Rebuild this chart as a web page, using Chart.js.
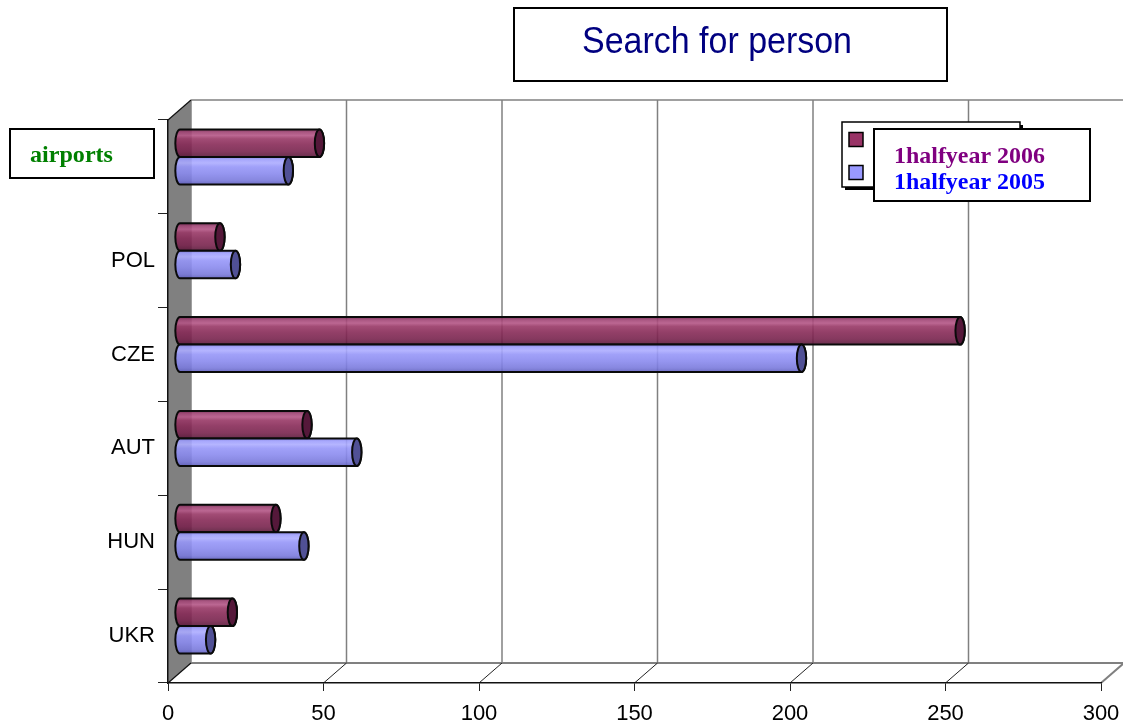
<!DOCTYPE html>
<html><head><meta charset="utf-8">
<script src="https://cdn.jsdelivr.net/npm/chart.js@4/dist/chart.umd.min.js"></script>
<style>html,body{margin:0;padding:0;background:#fff;overflow:hidden}#wrap{width:1123px;height:726px;position:relative}</style>
</head><body><div id="wrap"><canvas id="c" width="1123" height="726"></canvas></div>
<script>
const categories = ['airports', 'POL', 'CZE', 'AUT', 'HUN', 'UKR'];
const seriesNames = ['1halfyear 2006', '1halfyear 2005'];
const values2006 = [45, 13, 251, 41, 31, 17];
const values2005 = [35, 18, 200, 57, 40, 10];
const xTicks = [0, 50, 100, 150, 200, 250, 300];
const chartTitle = 'Search for person';

const DX = 23, DY = -20; // depth of the 3D box
const seriesStyles = [
  { legend: '#993366', text: '#800080', cap: '#55183a',
    stops: [[0,'#742650'],[0.1,'#a04474'],[0.22,'#b45686'],[0.34,'#983866'],[0.55,'#872a57'],[0.8,'#78234d'],[1,'#5a193a']] },
  { legend: '#9999FF', text: '#0000FF', cap: '#505095',
    stops: [[0,'#7e7ee0'],[0.1,'#9e9efc'],[0.22,'#acacff'],[0.36,'#9696f8'],[0.6,'#8a8aee'],[0.85,'#7a7adc'],[1,'#6060be']] }
];

function line(ctx, x1, y1, x2, y2) { ctx.beginPath(); ctx.moveTo(x1, y1); ctx.lineTo(x2, y2); ctx.stroke(); }

function cylinder(ctx, x0, x1, yc, h, st) {
  const ry = h / 2, rx = h * 0.17;
  const top = yc - ry, bot = yc + ry;
  const g = ctx.createLinearGradient(0, top, 0, bot);
  st.stops.forEach(s => g.addColorStop(s[0], s[1]));
  ctx.beginPath();
  ctx.moveTo(x1, top);
  ctx.lineTo(x0, top);
  ctx.ellipse(x0, yc, rx, ry, 0, -Math.PI / 2, Math.PI / 2, true);
  ctx.lineTo(x1, bot);
  ctx.ellipse(x1, yc, rx, ry, 0, Math.PI / 2, -Math.PI / 2, true);
  ctx.closePath();
  ctx.globalAlpha = 0.9;
  ctx.fillStyle = g; ctx.fill();
  ctx.globalAlpha = 1;
  ctx.lineWidth = 2; ctx.strokeStyle = '#0a0a0a'; ctx.stroke();
  ctx.beginPath();
  ctx.ellipse(x1, yc, rx, ry, 0, 0, Math.PI * 2);
  ctx.fillStyle = st.cap; ctx.fill(); ctx.stroke();
}

function fitFont(ctx, text, weight, family, width) {
  ctx.font = weight + ' 20px ' + family;
  const w = ctx.measureText(text).width;
  const size = 20 * width / w;
  return weight + ' ' + size.toFixed(2) + 'px ' + family;
}

const depthPlugin = {
  id: 'depth',
  beforeDraw(chart) {
    const { ctx, chartArea: a, scales: { x } } = chart;
    ctx.save();
    ctx.fillStyle = '#fff'; ctx.fillRect(0, 0, chart.width, chart.height);
    // back wall grid lines
    ctx.strokeStyle = '#808080'; ctx.lineWidth = 1.5;
    xTicks.forEach(v => { const px = x.getPixelForValue(v) + DX; line(ctx, px, a.top + DY, px, a.bottom + DY); });
    line(ctx, a.left + DX, a.top + DY, a.right + DX, a.top + DY);
    // floor
    ctx.lineWidth = 2;
    line(ctx, a.left + DX, a.bottom + DY, a.right + DX, a.bottom + DY);
    line(ctx, a.right, a.bottom, a.right + DX, a.bottom + DY);
    ctx.strokeStyle = '#222'; ctx.lineWidth = 1;
    xTicks.slice(1, -1).forEach(v => { const px = x.getPixelForValue(v); line(ctx, px, a.bottom, px + DX, a.bottom + DY); });
    // side wall
    ctx.beginPath();
    ctx.moveTo(a.left, a.top); ctx.lineTo(a.left + DX, a.top + DY);
    ctx.lineTo(a.left + DX, a.bottom + DY); ctx.lineTo(a.left, a.bottom); ctx.closePath();
    ctx.fillStyle = '#808080'; ctx.fill();
    ctx.strokeStyle = '#111'; ctx.lineWidth = 1.2;
    line(ctx, a.left, a.top, a.left + DX, a.top + DY);
    line(ctx, a.left, a.bottom, a.left + DX, a.bottom + DY);
    ctx.restore();
  },
  beforeDatasetsDraw(chart) {
    const ctx = chart.ctx;
    ctx.save();
    chart.data.datasets.forEach((ds, di) => {
      chart.getDatasetMeta(di).data.forEach(el => {
        const p = el.getProps(['x', 'y', 'base', 'height'], true);
        cylinder(ctx, p.base + DX / 2, p.x + DX / 2, p.y + DY / 2, p.height, seriesStyles[di]);
      });
    });
    ctx.restore();
    return false;
  },
  afterDraw(chart) {
    const ctx = chart.ctx;
    ctx.save();
    // title box
    ctx.fillStyle = '#fff'; ctx.fillRect(514, 8, 433, 73);
    ctx.strokeStyle = '#000'; ctx.lineWidth = 2; ctx.strokeRect(514, 8, 433, 73);
    ctx.font = fitFont(ctx, chartTitle, 'normal', '"Liberation Sans", Arial, sans-serif', 270);
    ctx.fillStyle = '#000080'; ctx.textAlign = 'center'; ctx.textBaseline = 'alphabetic';
    ctx.save(); ctx.translate(717, 53); ctx.scale(1, 1.1);
    ctx.fillText(chartTitle, 0, 0);
    ctx.restore();
    // airports box
    ctx.fillStyle = '#fff'; ctx.fillRect(10, 129, 144, 49);
    ctx.strokeRect(10, 129, 144, 49);
    ctx.font = fitFont(ctx, categories[0], 'bold', '"Liberation Serif", "Times New Roman", serif', 83);
    ctx.fillStyle = '#008000'; ctx.textAlign = 'left';
    ctx.fillText(categories[0], 30, 162);
    // legend back box with shadow
    ctx.fillStyle = '#000'; ctx.fillRect(845, 125, 178, 65);
    ctx.fillStyle = '#fff'; ctx.fillRect(842, 122, 178, 65);
    ctx.lineWidth = 1.5; ctx.strokeRect(842, 122, 178, 65);
    [132.5, 165.5].forEach((yy, i) => {
      ctx.fillStyle = seriesStyles[i].legend; ctx.fillRect(849, yy, 14, 14);
      ctx.strokeStyle = '#000'; ctx.strokeRect(849, yy, 14, 14);
    });
    // legend front box
    ctx.fillStyle = '#fff'; ctx.fillRect(874, 129, 216, 72);
    ctx.lineWidth = 2; ctx.strokeRect(874, 129, 216, 72);
    ctx.font = fitFont(ctx, seriesNames[0], 'bold', '"Liberation Serif", "Times New Roman", serif', 151);
    [163, 189].forEach((yy, i) => {
      ctx.fillStyle = seriesStyles[i].text; ctx.fillText(seriesNames[i], 894, yy);
    });
    ctx.restore();
  }
};

new Chart(document.getElementById('c'), {
  type: 'bar',
  data: {
    labels: categories,
    datasets: [
      { label: seriesNames[0], data: values2006, backgroundColor: seriesStyles[0].legend, categoryPercentage: 0.586, barPercentage: 1.0 },
      { label: seriesNames[1], data: values2005, backgroundColor: seriesStyles[1].legend, categoryPercentage: 0.586, barPercentage: 1.0 }
    ]
  },
  options: {
    indexAxis: 'y',
    responsive: false,
    animation: false,
    devicePixelRatio: 1,
    layout: { padding: { top: 120, right: 22, left: 0, bottom: 0 } },
    plugins: { legend: { display: false }, title: { display: false }, tooltip: { enabled: false } },
    scales: {
      x: {
        type: 'linear', min: 0, max: 300,
        afterBuildTicks: s => { s.ticks = xTicks.map(v => ({ value: v })); },
        afterFit: s => { s.height = 43; s.paddingLeft = 0; s.paddingRight = 0; },
        ticks: { font: { family: '"Liberation Sans", Arial, sans-serif', size: 22 }, color: '#000', padding: 10, maxRotation: 0 },
        grid: { display: true, drawOnChartArea: false, drawTicks: true, tickLength: 8, color: '#222', lineWidth: 1 },
        border: { display: true, color: '#111', width: 1.5 }
      },
      y: {
        type: 'category', offset: true,
        afterFit: s => { s.width = 168; s.paddingTop = 0; s.paddingBottom = 0; },
        ticks: { font: { family: '"Liberation Sans", Arial, sans-serif', size: 22 }, color: '#000', padding: 3,
                 callback: (v, i) => i === 0 ? '' : categories[i] },
        grid: { display: true, offset: true, drawOnChartArea: false, drawTicks: true, tickLength: 10, color: '#222', lineWidth: 1 },
        border: { display: true, color: '#111', width: 1.5 }
      }
    }
  },
  plugins: [depthPlugin]
});
</script>
</body></html>
